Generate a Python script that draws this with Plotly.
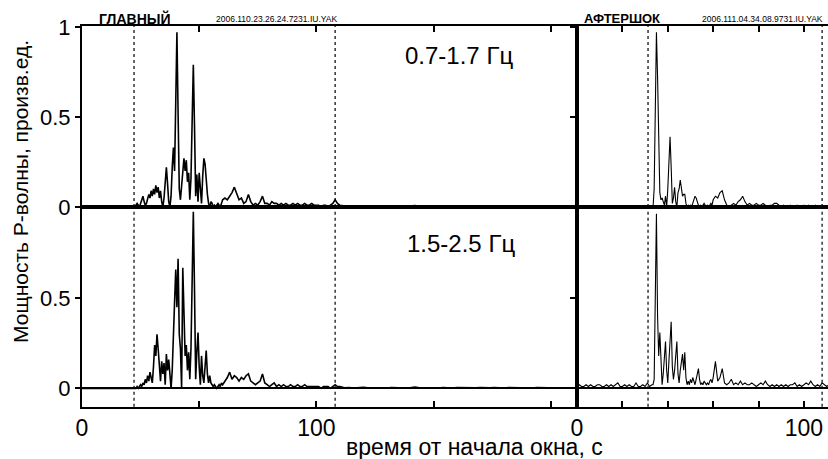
import numpy as np
import plotly.graph_objects as go

# ---------------- data ----------------
# sampling grid (s) of the main shock window
t_main = np.concatenate([np.arange(0, 23, 2), np.arange(22.5, 60.01, 0.5),
                         np.arange(61, 110.01, 1), np.arange(112, 210.01, 2)])
# sampling grid (s) of the aftershock window
t_after = np.concatenate([np.arange(0, 33.01, 1), np.arange(33.5, 60.01, 0.5),
                          np.arange(61, 112.01, 1)])

# main shock, 0.7-1.7 Hz
main_lo = (
    [0.00] * 12 +
    [0.00, 0.01, 0.02, 0.01, 0.00, 0.02, 0.04, 0.06, 0.03, 0.01,
     0.02, 0.04, 0.07, 0.05, 0.09, 0.06, 0.10, 0.07, 0.12, 0.08,
     0.11, 0.05, 0.09, 0.03, 0.00, 0.05, 0.14, 0.22, 0.13, 0.03,
     0.00, 0.06, 0.22, 0.33, 0.20, 0.62, 0.97, 0.52, 0.10, 0.04,
     0.12, 0.21, 0.27, 0.20, 0.26, 0.14, 0.19, 0.04, 0.16, 0.48,
     0.79, 0.45, 0.06, 0.18, 0.03, 0.19, 0.07, 0.02, 0.17, 0.27,
     0.24, 0.14, 0.07, 0.02, 0.00, 0.03, 0.02, 0.00, 0.01, 0.00,
     0.01, 0.02, 0.01, 0.00, 0.02, 0.04] +
    [0.05, 0.04, 0.06, 0.08, 0.11, 0.07, 0.04, 0.05, 0.02, 0.03,
     0.07, 0.03, 0.01, 0.02, 0.01, 0.03, 0.06, 0.02, 0.02, 0.01,
     0.03, 0.02, 0.02, 0.01, 0.02, 0.01, 0.02, 0.01, 0.01, 0.02,
     0.01, 0.02, 0.01, 0.01, 0.02, 0.01, 0.01, 0.02, 0.01, 0.01,
     0.01, 0.00, 0.01, 0.01, 0.00, 0.01, 0.02, 0.04, 0.02, 0.01] +
    [0.004, 0.002, 0.006, 0.003, 0.002, 0.005, 0.003, 0.002, 0.004, 0.006,
     0.003, 0.002, 0.004, 0.003, 0.005, 0.008, 0.004, 0.002, 0.003, 0.005,
     0.002, 0.003, 0.004, 0.002, 0.006, 0.003, 0.002, 0.004, 0.003, 0.002,
     0.005, 0.003, 0.002, 0.004, 0.003, 0.002, 0.005, 0.003, 0.004, 0.002,
     0.003, 0.005, 0.002, 0.004, 0.003, 0.002, 0.004, 0.003, 0.002, 0.003]
)

# main shock, 1.5-2.5 Hz
main_hi = (
    [0.00] * 12 +
    [0.00, 0.00, 0.01, 0.00, 0.01, 0.02, 0.01, 0.03, 0.02, 0.05,
     0.03, 0.07, 0.04, 0.09, 0.06, 0.03, 0.12, 0.24, 0.18, 0.30,
     0.22, 0.12, 0.04, 0.15, 0.08, 0.14, 0.02, 0.19, 0.10, 0.16,
     0.06, 0.00, 0.10, 0.25, 0.48, 0.66, 0.45, 0.72, 0.30, 0.22,
     0.00, 0.67, 0.40, 0.18, 0.24, 0.10, 0.20, 0.05, 0.22, 0.62,
     0.98, 0.55, 0.05, 0.20, 0.31, 0.12, 0.02, 0.18, 0.07, 0.03,
     0.15, 0.21, 0.08, 0.03, 0.07, 0.03, 0.02, 0.01, 0.02, 0.01,
     0.00, 0.01, 0.02, 0.01, 0.03, 0.02] +
    [0.04, 0.06, 0.09, 0.05, 0.07, 0.06, 0.04, 0.06, 0.05, 0.07,
     0.08, 0.04, 0.03, 0.02, 0.03, 0.04, 0.08, 0.03, 0.02, 0.01,
     0.02, 0.03, 0.01, 0.02, 0.01, 0.02, 0.01, 0.01, 0.02, 0.01,
     0.01, 0.02, 0.01, 0.01, 0.02, 0.01, 0.01, 0.01, 0.01, 0.01,
     0.01, 0.00, 0.01, 0.01, 0.01, 0.00, 0.01, 0.02, 0.01, 0.01] +
    [0.003, 0.005, 0.002, 0.004, 0.006, 0.003, 0.002, 0.004, 0.003, 0.002,
     0.005, 0.003, 0.004, 0.002, 0.003, 0.007, 0.003, 0.002, 0.004, 0.003,
     0.002, 0.005, 0.003, 0.002, 0.004, 0.003, 0.005, 0.002, 0.003, 0.004,
     0.002, 0.003, 0.005, 0.003, 0.002, 0.004, 0.003, 0.002, 0.005, 0.003,
     0.002, 0.004, 0.003, 0.002, 0.004, 0.003, 0.002, 0.003, 0.004, 0.002]
)

# aftershock, 0.7-1.7 Hz
after_lo = (
    [0.00] * 34 +
    [0.00, 0.10, 0.50, 0.97, 0.72, 0.30, 0.08, 0.04, 0.05, 0.03,
     0.01, 0.06, 0.00, 0.10, 0.26, 0.39, 0.22, 0.02, 0.05, 0.11,
     0.03, 0.00, 0.08, 0.10, 0.15, 0.09, 0.06, 0.07, 0.07, 0.02,
     0.00, 0.01, 0.00, 0.01, 0.00, 0.02, 0.04, 0.06, 0.05, 0.02,
     0.01, 0.00, 0.01, 0.00, 0.01, 0.02, 0.01, 0.00, 0.01, 0.00,
     0.01, 0.02, 0.01, 0.04] +
    [0.06, 0.05, 0.08, 0.09, 0.04, 0.01, 0.00, 0.01, 0.02, 0.01,
     0.03, 0.04, 0.06, 0.03, 0.01, 0.02, 0.01, 0.01, 0.02, 0.01,
     0.01, 0.02, 0.01, 0.00, 0.01, 0.01, 0.02, 0.02, 0.01, 0.00,
     0.01, 0.00, 0.00, 0.01, 0.00, 0.00, 0.01, 0.00, 0.00, 0.01,
     0.00, 0.01, 0.00, 0.00, 0.01, 0.00, 0.00, 0.01, 0.00, 0.00,
     0.01, 0.00]
)

# aftershock, 1.5-2.5 Hz
after_hi = (
    [0.01, 0.02, 0.01, 0.01, 0.02, 0.01, 0.02, 0.01, 0.01, 0.02,
     0.02, 0.01, 0.01, 0.02, 0.01, 0.02, 0.01, 0.02, 0.03, 0.01,
     0.01, 0.02, 0.01, 0.02, 0.01, 0.01, 0.03, 0.01, 0.01, 0.02,
     0.01, 0.03, 0.01, 0.02] +
    [0.02, 0.05, 0.55, 0.97, 0.40, 0.18, 0.31, 0.10, 0.02, 0.08,
     0.18, 0.26, 0.10, 0.03, 0.15, 0.30, 0.37, 0.12, 0.05, 0.10,
     0.20, 0.26, 0.08, 0.03, 0.10, 0.15, 0.19, 0.10, 0.20, 0.06,
     0.02, 0.04, 0.02, 0.05, 0.03, 0.06, 0.04, 0.02, 0.05, 0.08,
     0.11, 0.05, 0.02, 0.03, 0.02, 0.04, 0.03, 0.02, 0.03, 0.02,
     0.04, 0.05, 0.03, 0.06] +
    [0.15, 0.04, 0.06, 0.11, 0.03, 0.02, 0.03, 0.05, 0.02, 0.03,
     0.02, 0.04, 0.02, 0.03, 0.02, 0.02, 0.03, 0.02, 0.01, 0.02,
     0.03, 0.02, 0.04, 0.02, 0.01, 0.02, 0.01, 0.02, 0.01, 0.02,
     0.01, 0.02, 0.01, 0.02, 0.02, 0.03, 0.01, 0.02, 0.01, 0.02,
     0.03, 0.02, 0.04, 0.02, 0.01, 0.02, 0.01, 0.03, 0.02, 0.01,
     0.02, 0.01]
)

assert len(main_lo) == len(t_main), (len(main_lo), len(t_main))
assert len(main_hi) == len(t_main), (len(main_hi), len(t_main))
assert len(after_lo) == len(t_after), (len(after_lo), len(t_after))
assert len(after_hi) == len(t_after), (len(after_hi), len(t_after))

# time markers (dotted lines), s
marks_main = [22.2, 108.0]
marks_after = [31.3, 108.0]

band_labels = ["0.7-1.7 Гц", "1.5-2.5 Гц"]
event_labels = ["ГЛАВНЫЙ", "АФТЕРШОК"]
station_labels = ["2006.110.23.26.24.7231.IU.YAK", "2006.111.04.34.08.9731.IU.YAK"]
y_title = "Мощность P-волны, произв.ед."
x_title = "время от начала окна, с"

# ---------------- figure ----------------
W, H = 828, 459
FONT = "Arial, Liberation Sans, sans-serif"

def px(x):
    return x / W

def py(y):
    return 1 - y / H

x_left = [px(82), px(577)]
x_right = [px(577), 1.0]
y_top = [py(207), py(26)]
y_bot = [py(406.7), py(207)]

fig = go.Figure()
fig.add_trace(go.Scatter(x=t_main, y=main_lo, xaxis="x", yaxis="y", mode="lines",
                         line=dict(color="black", width=1.6)))
fig.add_trace(go.Scatter(x=t_after, y=after_lo, xaxis="x2", yaxis="y2", mode="lines",
                         line=dict(color="black", width=1.1)))
fig.add_trace(go.Scatter(x=t_main, y=main_hi, xaxis="x3", yaxis="y3", mode="lines",
                         line=dict(color="black", width=1.6)))
fig.add_trace(go.Scatter(x=t_after, y=after_hi, xaxis="x4", yaxis="y4", mode="lines",
                         line=dict(color="black", width=1.1)))

axis_common = dict(showline=True, linecolor="black", linewidth=2, showgrid=False,
                   tickcolor="black", tickwidth=1.5, zeroline=False, automargin=False,
                   tickfont=dict(family=FONT, size=23, color="black"))

main_ticks = [0, 50, 100, 150, 200]
main_text = ["0", "", "100", "", ""]
after_ticks = [0, 20, 40, 60, 80, 100]
after_text = ["0", "", "", "", "", "100"]

fig.update_layout(
    width=W, height=H, autosize=False,
    margin=dict(l=0, r=0, t=0, b=0, pad=0),
    paper_bgcolor="white", plot_bgcolor="white",
    showlegend=False,
    xaxis=dict(axis_common, domain=x_left, anchor="y", range=[0, 211.2], side="top",
               tickvals=main_ticks, showticklabels=False, ticks="inside", ticklen=6, mirror=True),
    xaxis2=dict(axis_common, domain=x_right, anchor="y2", range=[0, 110.6], side="top",
                tickvals=after_ticks, showticklabels=False, ticks="inside", ticklen=6, mirror=True),
    xaxis3=dict(axis_common, domain=x_left, anchor="y3", range=[0, 211.2],
                tickvals=main_ticks, ticktext=main_text, ticks="inside", ticklen=6,
                mirror=True, ticklabelstandoff=0),
    xaxis4=dict(axis_common, domain=x_right, anchor="y4", range=[0, 110.6],
                tickvals=after_ticks, ticktext=after_text, ticks="inside", ticklen=6,
                mirror=True, ticklabelstandoff=0),
    yaxis=dict(axis_common, domain=y_top, anchor="x", range=[0, 1.005],
               tickvals=[0, 0.5, 1], ticktext=["0", "0.5", "1"], ticks="outside",
               ticklen=5, mirror=True, tickfont=dict(family=FONT, size=22, color="black")),
    yaxis2=dict(axis_common, domain=y_top, anchor="x2", range=[0, 1.005],
                tickvals=[0, 0.5, 1], showticklabels=False, ticks="outside", ticklen=5),
    yaxis3=dict(axis_common, domain=y_bot, anchor="x3", range=[-0.102, 1.007],
                tickvals=[0, 0.5], ticktext=["0", "0.5"], ticks="outside", ticklen=5,
                mirror=True, zeroline=True, zerolinecolor="black", zerolinewidth=1.6,
                tickfont=dict(family=FONT, size=22, color="black")),
    yaxis4=dict(axis_common, domain=y_bot, anchor="x4", range=[-0.102, 1.007],
                tickvals=[0, 0.5], showticklabels=False, ticks="outside", ticklen=5,
                zeroline=True, zerolinecolor="black", zerolinewidth=1.6),
)

shapes = []
for xr, yr, marks in [("x", "y", marks_main), ("x3", "y3", marks_main),
                      ("x2", "y2", marks_after), ("x4", "y4", marks_after)]:
    for m in marks:
        shapes.append(dict(type="line", xref=xr, yref=yr + " domain", x0=m, x1=m, y0=0, y1=1,
                           line=dict(color="black", width=1.2, dash="dot"), layer="below"))
fig.update_layout(shapes=shapes)

ann = []
def add_text(text, x, y, size, bold=False, angle=0):
    ann.append(dict(text=("<b>%s</b>" % text) if bold else text, x=px(x), y=py(y),
                    xref="paper", yref="paper", showarrow=False, textangle=angle,
                    xanchor="center", yanchor="middle",
                    font=dict(family=FONT, size=size, color="black")))

add_text(event_labels[0], 135, 18.5, 14, bold=True)
add_text(station_labels[0], 276, 18.5, 8.5)
add_text(event_labels[1], 621.5, 18.5, 13, bold=True)
add_text(station_labels[1], 762.5, 18.5, 8.5)
add_text(band_labels[0], 459, 56, 24)
add_text(band_labels[1], 461, 243, 24)
add_text(y_title, 20, 192, 21, angle=-90)
add_text(x_title, 474, 446.5, 23)
fig.update_layout(annotations=ann)

fig.write_html("out.html")
